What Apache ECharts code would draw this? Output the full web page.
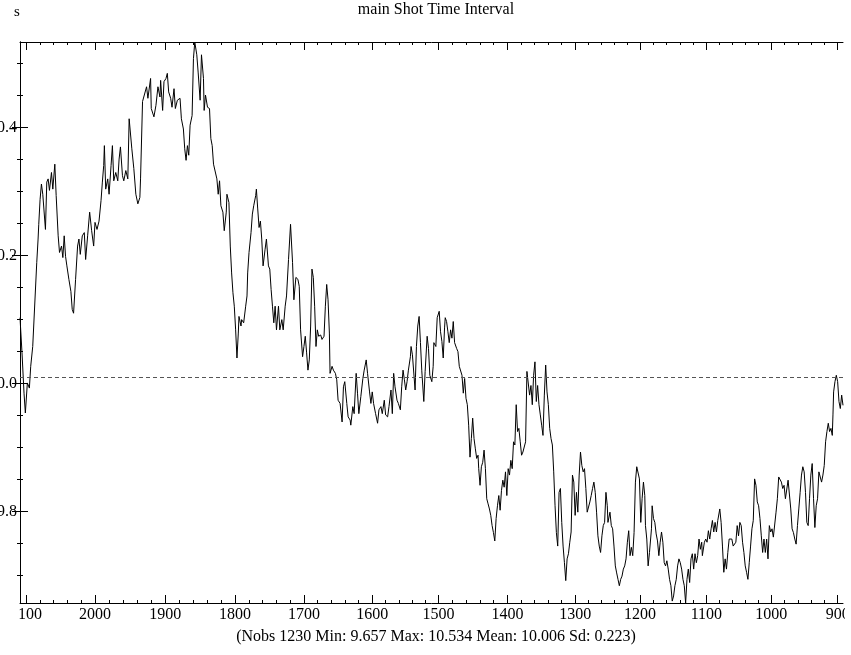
<!DOCTYPE html>
<html>
<head>
<meta charset="utf-8">
<script src="https://cdn.jsdelivr.net/npm/echarts@6/dist/echarts.min.js"></script>
<style>
html,body{margin:0;padding:0;background:#fff;}
#chart{width:851px;height:655px;}
</style>
</head>
<body>
<div id="chart"></div>
<script>
// Observation index (0..1229) and shot time interval value (s)
const points = [[0,10.103],[3,10.048],[6,9.985],[8,9.954],[11,10.001],[14,9.993],[16,10.027],[19,10.058],[25,10.189],[27,10.226],[28,10.249],[30,10.288],[32,10.312],[34,10.296],[38,10.241],[40,10.315],[42,10.320],[44,10.302],[47,10.330],[49,10.304],[52,10.343],[54,10.294],[57,10.231],[59,10.205],[62,10.215],[64,10.197],[66,10.231],[68,10.199],[70,10.184],[73,10.163],[76,10.144],[78,10.116],[80,10.110],[83,10.163],[86,10.215],[88,10.226],[90,10.202],[93,10.231],[96,10.236],[98,10.194],[101,10.231],[104,10.268],[107,10.239],[110,10.215],[112,10.252],[115,10.241],[118,10.254],[121,10.286],[123,10.315],[125,10.341],[126,10.372],[128,10.304],[131,10.320],[133,10.296],[136,10.341],[138,10.372],[140,10.317],[143,10.330],[146,10.317],[148,10.351],[150,10.370],[153,10.325],[155,10.317],[158,10.333],[161,10.320],[163,10.414],[167,10.367],[170,10.336],[173,10.296],[176,10.281],[179,10.291],[180,10.320],[183,10.441],[189,10.464],[191,10.446],[195,10.477],[196,10.430],[200,10.417],[203,10.435],[206,10.464],[209,10.448],[210,10.474],[213,10.427],[215,10.472],[218,10.477],[220,10.485],[222,10.456],[225,10.446],[227,10.432],[230,10.461],[232,10.430],[235,10.443],[239,10.446],[241,10.414],[244,10.398],[246,10.367],[248,10.349],[250,10.372],[252,10.357],[254,10.404],[257,10.419],[259,10.508],[261,10.534],[264,10.514],[266,10.487],[269,10.443],[271,10.514],[274,10.477],[275,10.427],[277,10.451],[280,10.432],[283,10.430],[285,10.383],[287,10.372],[289,10.343],[291,10.346],[294,10.320],[296,10.296],[298,10.317],[300,10.278],[303,10.268],[305,10.239],[308,10.268],[309,10.296],[312,10.283],[314,10.215],[316,10.173],[318,10.142],[320,10.121],[322,10.084],[324,10.040],[326,10.079],[327,10.105],[330,10.090],[331,10.100],[334,10.095],[337,10.121],[339,10.137],[340,10.173],[342,10.205],[345,10.236],[347,10.265],[349,10.278],[352,10.294],[353,10.304],[355,10.273],[357,10.244],[359,10.254],[361,10.226],[363,10.184],[366,10.210],[368,10.226],[371,10.184],[373,10.179],[375,10.147],[377,10.121],[379,10.095],[381,10.121],[383,10.084],[386,10.121],[388,10.084],[391,10.100],[393,10.084],[396,10.121],[398,10.137],[401,10.194],[404,10.249],[407,10.189],[409,10.131],[412,10.166],[415,10.163],[417,10.152],[419,10.084],[422,10.042],[424,10.058],[426,10.074],[428,10.048],[430,10.021],[432,10.037],[434,10.090],[436,10.179],[438,10.166],[440,10.121],[442,10.058],[444,10.084],[446,10.074],[449,10.076],[451,10.069],[454,10.074],[456,10.121],[458,10.155],[460,10.131],[462,10.079],[463,10.016],[466,10.027],[468,10.021],[471,10.016],[473,10.006],[475,9.974],[478,9.969],[481,9.940],[483,9.995],[485,10.003],[488,9.969],[490,9.948],[493,9.943],[494,9.935],[497,9.964],[499,9.953],[502,10.016],[504,9.985],[506,9.953],[509,9.980],[512,10.008],[514,10.021],[517,10.037],[519,10.016],[522,9.987],[524,9.969],[526,9.987],[528,9.969],[531,9.953],[534,9.938],[536,9.959],[539,9.964],[541,9.953],[544,9.974],[546,9.951],[549,9.948],[551,9.964],[554,9.990],[556,9.953],[558,10.016],[560,9.995],[563,9.974],[565,9.969],[568,9.959],[570,9.995],[572,10.021],[574,10.006],[576,9.990],[578,10.003],[580,10.021],[583,10.042],[584,10.058],[586,10.045],[588,10.042],[590,9.990],[592,10.058],[594,10.090],[596,10.105],[598,10.064],[600,10.020],[603,9.972],[605,10.019],[608,10.074],[610,10.055],[612,10.013],[615,10.003],[617,10.027],[618,10.064],[621,10.058],[623,10.103],[626,10.113],[628,10.081],[630,10.066],[632,10.040],[634,10.087],[635,10.103],[637,10.097],[639,10.081],[641,10.064],[643,10.084],[645,10.071],[647,10.097],[649,10.064],[652,10.055],[654,10.050],[656,10.027],[658,10.029],[660,10.013],[662,9.985],[664,10.008],[666,9.977],[668,9.967],[670,9.935],[672,9.885],[674,9.914],[676,9.946],[678,9.914],[680,9.898],[682,9.883],[684,9.888],[685,9.867],[687,9.841],[689,9.870],[691,9.877],[693,9.896],[695,9.867],[697,9.820],[699,9.812],[701,9.804],[703,9.794],[705,9.778],[707,9.767],[709,9.754],[711,9.789],[713,9.809],[715,9.825],[717,9.802],[719,9.833],[721,9.849],[723,9.838],[725,9.862],[727,9.825],[729,9.867],[731,9.857],[733,9.880],[735,9.867],[737,9.909],[739,9.904],[741,9.967],[743,9.925],[745,9.930],[747,9.909],[749,9.888],[751,9.893],[753,9.890],[755,9.909],[757,10.019],[759,10.021],[761,9.982],[763,9.997],[765,9.967],[767,10.013],[769,10.034],[771,9.972],[773,9.997],[775,9.967],[777,9.951],[779,9.935],[781,9.919],[783,9.982],[785,10.029],[787,9.987],[789,9.967],[791,9.930],[793,9.914],[795,9.904],[797,9.862],[799,9.809],[801,9.767],[803,9.746],[805,9.830],[807,9.836],[809,9.783],[811,9.746],[813,9.720],[815,9.692],[817,9.726],[819,9.734],[821,9.752],[823,9.768],[825,9.857],[827,9.846],[829,9.794],[831,9.830],[833,9.799],[835,9.857],[837,9.893],[839,9.872],[841,9.862],[843,9.867],[845,9.836],[847,9.799],[849,9.799],[851,9.815],[853,9.825],[855,9.836],[857,9.846],[859,9.830],[861,9.799],[863,9.762],[865,9.746],[867,9.736],[869,9.762],[871,9.778],[873,9.783],[875,9.830],[877,9.809],[878,9.783],[881,9.799],[883,9.778],[885,9.773],[887,9.746],[889,9.715],[891,9.704],[893,9.694],[895,9.684],[897,9.694],[899,9.699],[901,9.710],[903,9.715],[905,9.726],[907,9.752],[909,9.770],[911,9.731],[913,9.744],[915,9.731],[917,9.767],[919,9.846],[921,9.870],[922,9.870],[925,9.851],[927,9.783],[929,9.820],[931,9.846],[933,9.825],[934,9.778],[936,9.757],[938,9.715],[940,9.736],[943,9.773],[944,9.809],[946,9.789],[948,9.783],[950,9.765],[952,9.754],[954,9.731],[956,9.752],[958,9.768],[960,9.752],[962,9.720],[964,9.715],[966,9.723],[968,9.710],[970,9.694],[972,9.684],[974,9.660],[976,9.668],[978,9.684],[980,9.694],[982,9.715],[984,9.726],[986,9.720],[988,9.710],[990,9.694],[992,9.684],[994,9.657],[996,9.694],[998,9.710],[1000,9.689],[1002,9.726],[1004,9.734],[1006,9.710],[1008,9.734],[1010,9.720],[1012,9.731],[1014,9.757],[1016,9.741],[1018,9.752],[1019,9.731],[1022,9.752],[1024,9.757],[1026,9.752],[1028,9.770],[1030,9.757],[1032,9.773],[1034,9.786],[1036,9.768],[1038,9.783],[1040,9.768],[1042,9.786],[1044,9.783],[1045,9.804],[1047,9.783],[1049,9.746],[1051,9.705],[1053,9.726],[1055,9.710],[1057,9.736],[1059,9.757],[1061,9.760],[1063,9.757],[1065,9.746],[1067,9.744],[1069,9.752],[1071,9.778],[1073,9.762],[1075,9.783],[1077,9.778],[1079,9.752],[1081,9.736],[1083,9.715],[1085,9.705],[1087,9.694],[1089,9.720],[1091,9.746],[1093,9.773],[1095,9.786],[1097,9.851],[1099,9.841],[1101,9.815],[1103,9.809],[1105,9.789],[1107,9.762],[1109,9.736],[1111,9.757],[1113,9.736],[1115,9.757],[1117,9.726],[1119,9.778],[1121,9.768],[1123,9.773],[1125,9.760],[1127,9.757],[1129,9.799],[1131,9.820],[1133,9.854],[1135,9.851],[1137,9.846],[1139,9.836],[1141,9.841],[1143,9.820],[1145,9.817],[1147,9.849],[1149,9.846],[1151,9.804],[1153,9.773],[1155,9.767],[1157,9.757],[1159,9.749],[1161,9.778],[1163,9.804],[1165,9.830],[1167,9.857],[1169,9.870],[1171,9.862],[1173,9.830],[1175,9.783],[1177,9.778],[1179,9.820],[1181,9.857],[1183,9.875],[1185,9.820],[1187,9.775],[1189,9.809],[1191,9.820],[1193,9.862],[1195,9.865],[1197,9.846],[1199,9.857],[1201,9.872],[1203,9.909],[1205,9.925],[1207,9.938],[1209,9.925],[1211,9.930],[1213,9.919],[1214,9.951],[1215,9.987],[1217,10.003],[1219,10.013],[1221,10.003],[1223,9.972],[1225,9.961],[1227,9.982],[1229,9.966]];

// x tick labels (shot numbers) and the observation index where each sits
const xTickLabels = ['2100','2000','1900','1800','1700','1600','1500','1400','1300','1200','1100','1000','900'];
const xTickObs = [9,112,217,321,424,526,625,728,829,926,1025,1122,1221];
const yTicks = [9.8, 10.0, 10.2, 10.4];
const yMinorStep = 0.05;
const nObs = 1230;
const stats = {min: 9.657, max: 10.534, mean: 10.006, sd: 0.223};

const titleText = 'main Shot Time Interval';
const yName = 's';
const caption = '(Nobs ' + nObs + ' Min: ' + stats.min.toFixed(3) + ' Max: ' + stats.max.toFixed(3) +
  ' Mean: ' + stats.mean.toFixed(3) + ' Sd: ' + stats.sd.toFixed(3) + ')';

// minor tick positions (4 between each pair of major ticks)
const xMinor = [];
for (let i = 0; i < xTickObs.length - 1; i++) {
  const a = xTickObs[i], b = xTickObs[i + 1];
  for (let k = 1; k < 5; k++) xMinor.push(a + (b - a) * k / 5);
}
const yMinor = [];
for (let v = 9.70; v <= 10.5001; v += yMinorStep) {
  const r = Math.round(v * 100) / 100;
  if (!yTicks.some(t => Math.abs(t - r) < 1e-6)) yMinor.push(r);
}

const FONT = '"Liberation Serif", "Times New Roman", serif';
const black = '#000';

function xAx(pos, ticks, len, showLabel, showLine) {
  return {
    type: 'value', gridIndex: 0, position: pos, min: 0, max: nObs - 1,
    splitLine: {show: false},
    axisLine: {show: showLine, lineStyle: {color: black, width: 1}},
    axisTick: {show: true, inside: true, length: len, customValues: ticks, lineStyle: {color: black, width: 1}},
    axisLabel: showLabel ? {
      show: true, customValues: ticks, margin: 4, color: black, fontFamily: FONT, fontSize: 16,
      formatter: v => { const i = xTickObs.indexOf(v); return i >= 0 ? xTickLabels[i] : ''; }
    } : {show: false}
  };
}
function yAx(pos, ticks, len, showLabel, showLine, vmin, vmax) {
  return {
    type: 'value', gridIndex: 0, position: pos, min: vmin, max: vmax, scale: true,
    splitLine: {show: false},
    axisLine: {show: showLine, lineStyle: {color: black, width: 1}},
    axisTick: {show: true, inside: true, length: len, customValues: ticks, lineStyle: {color: black, width: 1}},
    axisLabel: showLabel ? {
      show: true, customValues: ticks, margin: 3, color: black, fontFamily: FONT, fontSize: 16,
      formatter: v => v.toFixed(1)
    } : {show: false}
  };
}

const vals = points.map(p => p[1]);
const yMin = Math.min(...vals), yMax = Math.max(...vals);

const chart = echarts.init(document.getElementById('chart'), null, {renderer: 'canvas'});
chart.setOption({
  animation: false,
  backgroundColor: '#fff',
  grid: {left: 20, right: 8, top: 42, bottom: 52, containLabel: false, outerBoundsMode: 'none'},
  xAxis: [
    xAx('bottom', xTickObs, 8, true, true),
    xAx('bottom', xMinor, 3, false, false),
    xAx('top', xTickObs, 8, false, true),
    xAx('top', xMinor, 3, false, false)
  ],
  yAxis: [
    yAx('left', yTicks, 8, true, true, yMin, yMax),
    yAx('left', yMinor, 3, false, false, yMin, yMax),
    yAx('right', yTicks, 8, false, true, yMin, yMax),
    yAx('right', yMinor, 3, false, false, yMin, yMax)
  ],
  series: [{
    type: 'line', xAxisIndex: 0, yAxisIndex: 0,
    data: points, showSymbol: false, symbol: 'none',
    lineStyle: {color: black, width: 1}, itemStyle: {color: black},
    markLine: {
      silent: true, symbol: 'none', label: {show: false},
      lineStyle: {color: '#555', width: 1, type: [4, 3]},
      data: [{yAxis: stats.mean}]
    },
    z: 3
  }],
  graphic: [
    {type: 'text', z: 100, style: {text: titleText, x: 436, y: 10, textAlign: 'center', textVerticalAlign: 'middle', verticalAlign: 'middle', font: '16px ' + FONT, fill: black}},
    {type: 'text', z: 100, style: {text: yName, x: 14, y: 12, textAlign: 'left', textVerticalAlign: 'middle', verticalAlign: 'middle', font: '15px ' + FONT, fill: black}},
    {type: 'text', z: 100, style: {text: caption, x: 436, y: 637, textAlign: 'center', textVerticalAlign: 'middle', verticalAlign: 'middle', font: '16px ' + FONT, fill: black}},
    // the reference clips x tick labels at the frame's left and right edges
    {type: 'rect', z: 90, shape: {x: 0, y: 604, width: 19.5, height: 22}, style: {fill: '#fff'}},
    {type: 'rect', z: 90, shape: {x: 845, y: 604, width: 6, height: 22}, style: {fill: '#fff'}}
  ]
});
</script>
</body>
</html>
